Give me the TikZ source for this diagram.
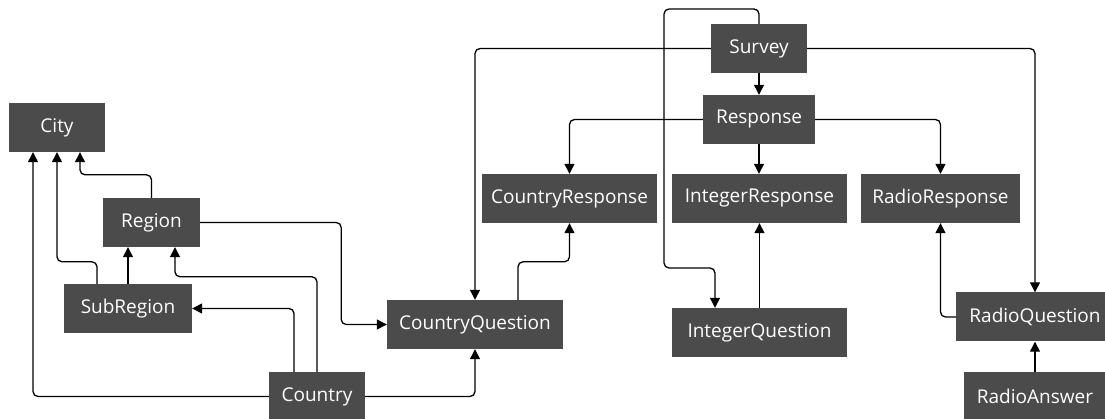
\documentclass[tikz,border=0pt]{standalone}
\usepackage{fontspec}
\setmainfont{Open Sans}
\usepackage{tikz}
\usetikzlibrary{arrows.meta}
\definecolor{boxgray}{HTML}{4B4B4B}

\begin{document}
\begin{tikzpicture}[x=1pt, y=-1pt,
        entity/.style={rectangle, fill=boxgray, text=white, minimum height=49pt, inner sep=0pt, font=\fontsize{19}{21}\selectfont},
        link/.style={draw=black, line width=1.3pt, rounded corners=5pt, -{Triangle[length=10pt,width=10pt]}}]
                \useasboundingbox (0,0) rectangle (1105,419);

                \node[entity, minimum width=96pt] (city) at (57,127.5) {City};
                \node[entity, minimum width=97pt] (region) at (151.5,222.5) {Region};
                \node[entity, minimum width=128pt] (subregion) at (128,308.5) {SubRegion};
                \node[entity, minimum width=96pt] (country) at (317,396.5) {Country};
                \node[entity, minimum width=176pt] (cq) at (475,324.5) {CountryQuestion};
                \node[entity, minimum width=175pt] (cr) at (569.5,198.5) {CountryResponse};
                \node[entity, minimum width=96pt] (survey) at (759,48.5) {Survey};
                \node[entity, minimum width=112pt] (response) at (759,119.5) {Response};
                \node[entity, minimum width=175pt] (ir) at (759.5,198.5) {IntegerResponse};
                \node[entity, minimum width=175pt] (iq) at (759.5,332.5) {IntegerQuestion};
                \node[entity, minimum width=159pt] (rr) at (940.5,198.5) {RadioResponse};
                \node[entity, minimum width=158pt] (rq) at (1035,317) {RadioQuestion};
                \node[entity, minimum width=142pt] (ra) at (1035,396.5) {RadioAnswer};

                % towards City
                \draw[link] (country.west) -| ([xshift=-24pt]city.south);
                \draw[link] ([xshift=-31pt]subregion.north) -- ++(0,-22) -| (city.south);
                \draw[link] (region.north) -- ++(0,-23) -| ([xshift=23pt]city.south);

                % towards Region and SubRegion
                \draw[link] (subregion.north) -- (subregion.north |- region.south);
                \draw[link] (country.north) -- ++(0,-95) -| ([xshift=23.5pt]region.south);
                \draw[link] ([xshift=-23pt]country.north) |- (subregion.east);

                % towards CountryQuestion
                \draw[link] (region.east) -- ++(141,0) |- (cq.west);
                \draw[link] (country.east) -| (cq.south);
                \draw[link] (survey.west) -| (cq.north);
                \draw[link] ([xshift=43pt]cq.north) -- ++(0,-38) -| (cr.south);

                % Survey and Response
                \draw[link] (response.west) -| (cr.north);
                \draw[link] (survey.south) -- (survey.south |- response.north);
                \draw[link] (response.south) -- (response.south |- ir.north);
                \draw[link] (iq.north) -- (iq.north |- ir.south);
                \draw[link] (survey.north) |- (664,9) |- (715,268) -- ([xshift=-44.5pt]iq.north);
                \draw[link] (response.east) -| (rr.north);
                \draw[link] (survey.east) -| (rq.north);
                \draw[link] (rq.west) -| (rr.south);
                \draw[link] (ra.north) -- (rq.south);
            \end{tikzpicture}
\end{document}
